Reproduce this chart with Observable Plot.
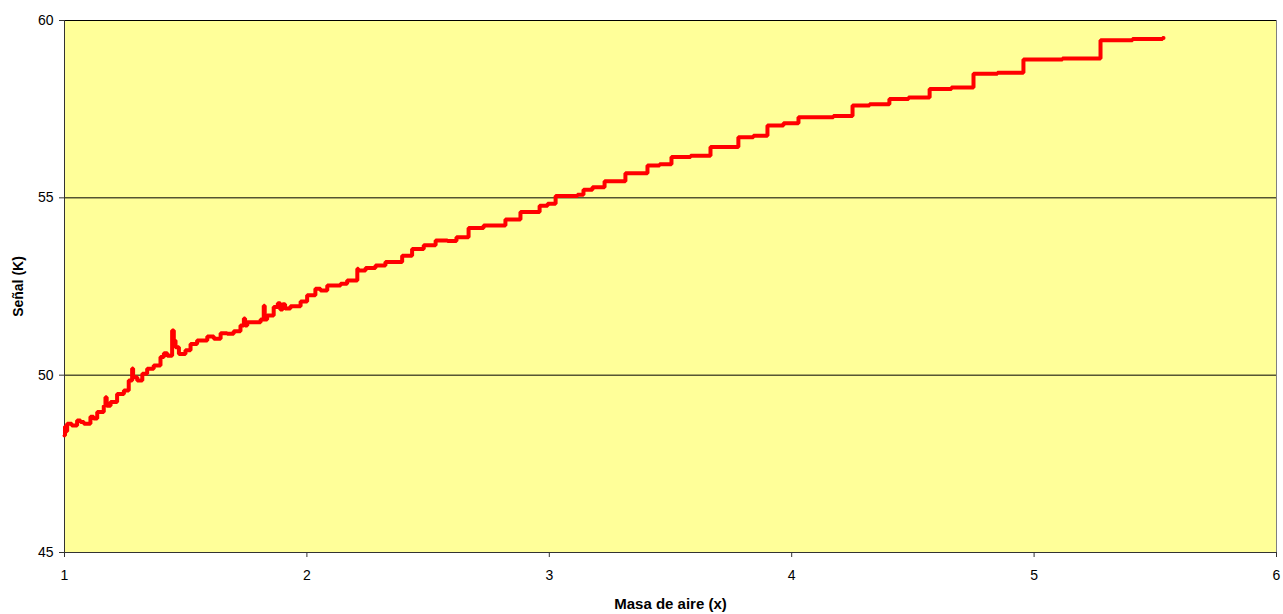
<!DOCTYPE html>
<html>
<head>
<meta charset="utf-8">
<script src="https://cdn.jsdelivr.net/npm/d3@7"></script>
<script src="https://cdn.jsdelivr.net/npm/@observablehq/plot@0.6"></script>
<style>
  html, body { margin: 0; padding: 0; background: #ffffff; }
  #chart svg { display: block; }
</style>
</head>
<body>
<div id="chart"></div>
<script>
// Air mass (x) and signal (K) — step points
const airMass = [
  1.000, 1.002, 1.006, 1.011, 1.030, 1.052, 1.066, 1.080, 1.107, 1.120,
  1.135, 1.162, 1.169, 1.174, 1.190, 1.217, 1.245, 1.265, 1.279, 1.283,
  1.300, 1.321, 1.341, 1.368, 1.396, 1.410, 1.424, 1.444, 1.451, 1.458,
  1.472, 1.499, 1.520, 1.547, 1.589, 1.616, 1.644, 1.671, 1.698, 1.726,
  1.740, 1.745, 1.754, 1.809, 1.822, 1.826, 1.836, 1.863, 1.880, 1.890,
  1.900, 1.910, 1.932, 1.974, 2.001, 2.035, 2.056, 2.084, 2.139, 2.166,
  2.208, 2.212, 2.242, 2.283, 2.324, 2.393, 2.434, 2.482, 2.531, 2.580,
  2.617, 2.667, 2.729, 2.819, 2.881, 2.960, 2.993, 3.026, 3.116, 3.141,
  3.178, 3.228, 3.314, 3.405, 3.455, 3.504, 3.583, 3.665, 3.780, 3.842,
  3.900, 3.966, 4.028, 4.172, 4.251, 4.321, 4.403, 4.482, 4.569, 4.659,
  4.750, 4.849, 4.956, 5.117, 5.274, 5.406, 5.530, 5.534
];
const signal = [
  48.30, 48.55, 48.42, 48.63, 48.58, 48.72, 48.68, 48.63, 48.83, 48.78,
  48.96, 49.14, 49.38, 49.14, 49.24, 49.47, 49.57, 49.85, 50.19, 49.94,
  49.85, 50.04, 50.18, 50.27, 50.51, 50.62, 50.55, 51.26, 50.98, 50.79,
  50.60, 50.70, 50.88, 50.98, 51.09, 51.03, 51.18, 51.17, 51.24, 51.40,
  51.60, 51.40, 51.49, 51.57, 51.96, 51.57, 51.68, 51.92, 52.03, 51.85,
  52.00, 51.88, 51.94, 52.08, 52.25, 52.44, 52.39, 52.53, 52.58, 52.67,
  53.00, 52.95, 53.02, 53.09, 53.19, 53.37, 53.56, 53.66, 53.80, 53.78,
  53.89, 54.15, 54.22, 54.39, 54.60, 54.78, 54.83, 55.05, 55.09, 55.23,
  55.30, 55.47, 55.69, 55.91, 55.95, 56.15, 56.19, 56.43, 56.71, 56.75,
  57.04, 57.10, 57.27, 57.31, 57.60, 57.64, 57.79, 57.83, 58.07, 58.11,
  58.50, 58.53, 58.90, 58.93, 59.44, 59.48, 59.51, 59.51
];
const xTicks = [1, 2, 3, 4, 5, 6];
const yTicks = [45, 50, 55, 60];
const gridValues = [50, 55, 60];
const xTitle = "Masa de aire (x)";
const yTitle = "Señal (K)";

const data = airMass.map((x, i) => ({x, y: signal[i]}));

const chart = Plot.plot({
  width: 1283,
  height: 614,
  marginLeft: 64,
  marginRight: 7,
  marginTop: 20,
  marginBottom: 62,
  style: {fontFamily: "'Liberation Sans', Arial, sans-serif", fontSize: "14px", color: "#000", background: "#fff"},
  x: {domain: [1, 6]},
  y: {domain: [45, 60]},
  marks: [
    Plot.frame({fill: "#FFFF99", stroke: "#808080"}),
    Plot.ruleY(gridValues, {stroke: "#000", strokeWidth: 1}),
    Plot.ruleX([1], {stroke: "#333", strokeWidth: 1}),
    Plot.ruleY([45], {stroke: "#333", strokeWidth: 1}),
    Plot.axisX({ticks: xTicks, tickSize: 5, tickPadding: 13, tickFormat: d => String(d), label: null, stroke: "#333", fontSize: 14}),
    Plot.axisY({ticks: yTicks, tickSize: 5, tickPadding: 6, tickFormat: d => String(d), label: null, stroke: "#333", fontSize: 14}),
    Plot.line(data, {x: "x", y: "y", curve: "step-after", stroke: "#FF0000", strokeWidth: 4, strokeLinejoin: "miter"}),
    Plot.text([xTitle], {frameAnchor: "bottom", dy: 56, fontWeight: "bold", fontSize: 15, textAnchor: "middle"}),
    Plot.text([yTitle], {frameAnchor: "left", dx: -46, rotate: -90, fontWeight: "bold", fontSize: 14, textAnchor: "middle"})
  ]
});
document.getElementById("chart").appendChild(chart);
</script>
</body>
</html>
